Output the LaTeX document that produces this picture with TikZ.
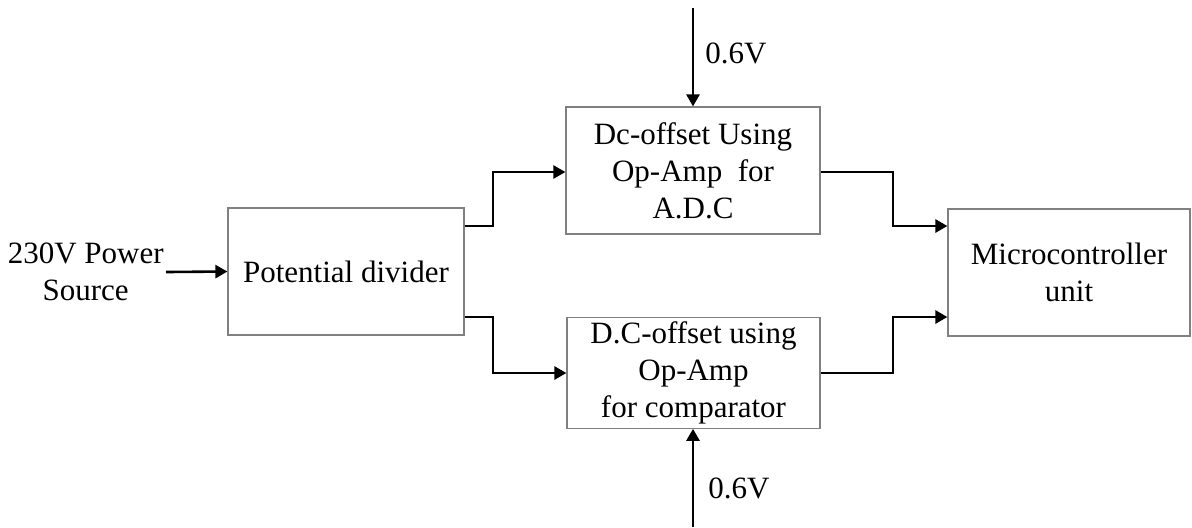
\documentclass[tikz,border=0pt]{standalone}
\usepackage{fontspec}
\setmainfont{Liberation Serif}
\usetikzlibrary{arrows.meta}
\begin{document}
\begin{tikzpicture}[x=0.5pt,y=-0.5pt,
  every node/.style={font=\fontsize{15.5}{18.5}\selectfont, align=center},
  block/.style={draw=black!50, line width=0.6pt, inner sep=2pt},
  conn/.style={line width=1.3pt, -{Triangle[length=6pt,width=6.5pt]}}]
\useasboundingbox (0,0) rectangle (1192,527);

% blocks
\node[block, minimum width=118pt, minimum height=63.5pt] (pd) at (346,271.5) {Potential divider};
\node[block, minimum width=127pt, minimum height=63.5pt] (adc) at (693,170.5) {Dc-offset Using\\Op-Amp\ \ for\\A.D.C};
\node[block, minimum width=126.5pt, minimum height=55pt] (cmp) at (693.5,373) {D.C-offset using\\Op-Amp\\for comparator};
\node[block, minimum width=121pt, minimum height=63.5pt] (mcu) at (1069,272.5) {Microcontroller\\unit};

% source and reference labels
\node[inner sep=1pt, anchor=east] (src) at (166,272) {230V Power\\Source};
\node[inner sep=0pt, anchor=west] (vtop) at (705,53) {0.6V};
\node[inner sep=0pt, anchor=west] (vbot) at (708,488) {0.6V};
\coordinate (topin) at (693,8);
\coordinate (botin) at (693,527);

% connectors
\draw[conn] (src.east) -- (pd.west);
\draw[conn] (pd.east |- 0,226) -| (493,172) -- (adc.west |- 0,172);
\draw[conn] (pd.east |- 0,317) -| (493,373) -- (cmp.west);
\draw[conn] (adc.east |- 0,172) -| (893,226) -- (mcu.west |- 0,226);
\draw[conn] (cmp.east) -| (893,317) -- (mcu.west |- 0,317);
\draw[conn] (topin) -- (adc.north);
\draw[conn] (botin) -- (cmp.south -| botin);
\end{tikzpicture}
\end{document}
